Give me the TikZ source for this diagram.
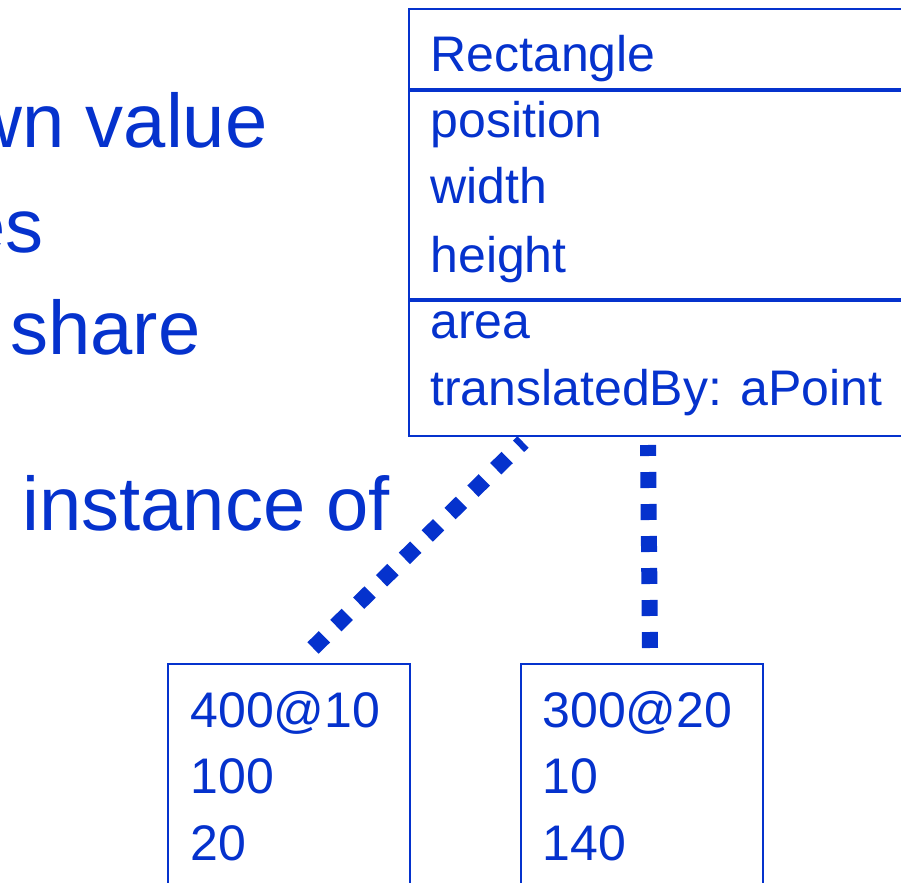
\documentclass[tikz,border=0pt]{standalone}
\usepackage{fontspec}
\setmainfont{Liberation Sans}
\usepackage{tikz}
\usetikzlibrary{positioning}
\definecolor{umlblue}{RGB}{5,50,205}

\begin{document}
\begin{tikzpicture}[x=0.5pt, y=-0.5pt, umlblue,
	box/.style = {draw=umlblue, line width=1pt, inner sep=0pt, minimum width=261pt},
	objbox/.style = {draw=umlblue, line width=1pt, inner sep=0pt, anchor=north west, minimum width=121pt, minimum height=118.5pt},
	attr/.style = {anchor=base west, inner sep=0pt, text=umlblue, font=\fontsize{25}{30}\selectfont},
	big/.style = {inner sep=0pt, text=umlblue, font=\fontsize{38}{46}\selectfont},
	instof/.style = {line width=8pt, dash pattern=on 8pt off 8pt, draw=umlblue}]
	\clip (0,0) rectangle (901,883);

	% class box
	\node [box, anchor=north west, minimum height=40pt] (name) at (408,8) {};
	\node [box, below=0pt of name, minimum height=104pt] (attrs) {};
	\node [box, below=0pt of attrs, minimum height=67.5pt] (ops) {};

	\node [attr] (cname) at (430,72) {Rectangle};
	\node [attr] (a1) at (430,138) {position};
	\node [attr] (a2) at (430,204) {width};
	\node [attr] (a3) at (430,272) {height};
	\node [attr] (o1) at (430,338) {area};
	\node [attr] (o2) at (430,405) {translatedBy: aPoint};

	% the two objects
	\node [objbox] (obj1) at (167,663) {};
	\node [objbox] (obj2) at (520,663) {};

	\node [attr] (v11) at (190,727) {400@10};
	\node [attr] (v12) at (190,793) {100};
	\node [attr] (v13) at (190,860) {20};
	\node [attr] (v21) at (542,727) {300@20};
	\node [attr] (v22) at (542,793) {10};
	\node [attr] (v23) at (542,860) {140};

	% left side text
	\node [big, anchor=base east] (l1) at (268,148) {wn value};
	\node [big, anchor=base east] (l2) at (44,253) {es};
	\node [big, anchor=base west] (l3) at (10,355) {share};
	\node [big, anchor=base west] (inst) at (22,530) {instance of};

	\draw[instof] ([shift={(24,-15)}]obj1.north) -- ([shift={(115,5)}]ops.south west);
	\draw[instof] ([shift={(8,-15)}]obj2.north) -- ([shift={(240,8)}]ops.south west);

\end{tikzpicture}
\end{document}
